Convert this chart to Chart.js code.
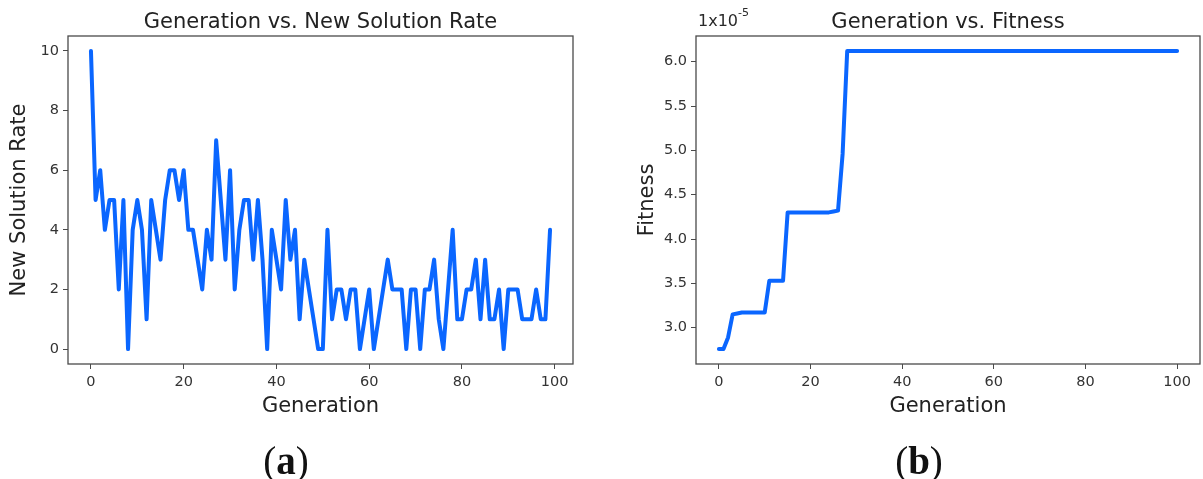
<!DOCTYPE html>
<html><head><meta charset="utf-8">
<script src="https://cdn.jsdelivr.net/npm/chart.js@4.4.1/dist/chart.umd.min.js"></script>
<style>
html,body{margin:0;padding:0;background:#fff;}
#wrap{position:relative;width:1203px;height:479px;overflow:hidden;}
canvas{position:absolute;top:0;}
</style></head><body>
<div id="wrap">
<canvas id="ca" style="left:0px"></canvas>
<canvas id="cb" style="left:603px"></canvas>
</div>
<script>
// ---- data ----
const newSolutionRate = [10,5,6,4,5,5,2,5,0,4,5,4,1,5,4,3,5,6,6,5,6,4,4,3,2,4,3,7,5,3,6,2,4,5,5,3,5,3,0,4,3,2,5,3,4,1,3,2,1,0,0,4,1,2,2,1,2,2,0,1,2,0,1,2,3,2,2,2,0,2,2,0,2,2,3,1,0,2,4,1,1,2,2,3,1,3,1,1,2,0,2,2,2,1,1,1,2,1,1,4];
const fitness = [2.76,2.76,2.89,3.15,3.16,3.17,3.17,3.17,3.17,3.17,3.17,3.53,3.53,3.53,3.53,4.30,4.30,4.30,4.30,4.30,4.30,4.30,4.30,4.30,4.30,4.31,4.32,4.96,
6.12,6.12,6.12,6.12,6.12,6.12,6.12,6.12,6.12,6.12,6.12,6.12,6.12,6.12,6.12,6.12,6.12,6.12,6.12,6.12,6.12,6.12,6.12,6.12,6.12,6.12,6.12,6.12,6.12,6.12,6.12,6.12,6.12,6.12,6.12,6.12,6.12,6.12,6.12,6.12,6.12,6.12,6.12,6.12,6.12,6.12,6.12,6.12,6.12,6.12,6.12,6.12,6.12,6.12,6.12,6.12,6.12,6.12,6.12,6.12,6.12,6.12,6.12,6.12,6.12,6.12,6.12,6.12,6.12,6.12,6.12,6.12,6.12];
const genTicks = [0,20,40,60,80,100];
const rateTicks = [0,2,4,6,8,10];
const fitTicks = [3.0,3.5,4.0,4.5,5.0,5.5,6.0];
const titleA = 'Generation vs. New Solution Rate';
const titleB = 'Generation vs. Fitness';
const xLabel = 'Generation';
const yLabelA = 'New Solution Rate';
const yLabelB = 'Fitness';

// ---- styling ----
const FONT = 'DejaVu Sans';
const LINE = '#0a66ff';
const FRAME = '#4a4a4a';
const TXT = '#333333';

function framePlugin(panel, caption){
  return {
    id:'frame'+panel,
    afterDraw(chart){
      const {ctx, chartArea:a} = chart;
      ctx.save();
      ctx.strokeStyle = FRAME; ctx.lineWidth = 1.3;
      ctx.strokeRect(a.left, a.top, a.right-a.left, a.bottom-a.top);
      // title
      ctx.fillStyle = '#222';
      ctx.font = '21px "' + FONT + '"';
      ctx.textAlign = 'center'; ctx.textBaseline = 'alphabetic';
      ctx.fillText(panel==='a'?titleA:titleB, (a.left+a.right)/2, 28);
      // caption (a)/(b)
      const cx = panel==='a' ? 286 : 316;
      const F = 39;
      ctx.font = F+'px "Liberation Serif"';
      const wOpen = ctx.measureText('(').width;
      ctx.font = 'bold '+F+'px "Liberation Serif"';
      const wMid = ctx.measureText(caption).width;
      ctx.font = F+'px "Liberation Serif"';
      const wClose = ctx.measureText(')').width;
      let x = cx - (wOpen+wMid+wClose)/2;
      ctx.textAlign = 'left';
      ctx.fillStyle = '#111';
      const by = 474;
      ctx.fillText('(', x, by); x += wOpen;
      ctx.font = 'bold '+F+'px "Liberation Serif"';
      ctx.fillText(caption, x, by); x += wMid;
      ctx.font = F+'px "Liberation Serif"';
      ctx.fillText(')', x, by);
      if(panel==='b'){
        ctx.font = '16px "' + FONT + '"';
        ctx.fillStyle = '#2a2a2a';
        ctx.fillText('1x10', a.left+2, 26);
        const w = ctx.measureText('1x10').width;
        ctx.font = '11px "' + FONT + '"';
        ctx.fillText('-5', a.left+2+w, 16);
      }
      ctx.restore();
    }
  };
}

function makeChart(id, panel, values, xmin, xmax, ymin, ymax, yTicks, yFmt, yWidth, yTitlePad, padRight){
  const cv = document.getElementById(id);
  cv.width = 600; cv.height = 479;
  cv.style.width = '600px'; cv.style.height = '479px';
  const pts = values.map((v,i)=>({x:i, y:v}));
  return new Chart(cv, {
    type:'line',
    data:{datasets:[{data:pts, borderColor:LINE, borderWidth:4, pointRadius:0, tension:0, fill:false, borderJoinStyle:'round', borderCapStyle:'round'}]},
    options:{
      responsive:false, animation:false, devicePixelRatio:1,
      layout:{padding:{left:0, top:36, right:padRight, bottom:55}},
      plugins:{legend:{display:false}, tooltip:{enabled:false}, title:{display:false}},
      scales:{
        x:{type:'linear', min:xmin, max:xmax,
          afterBuildTicks:s=>{ s.ticks = genTicks.map(v=>({value:v})); },
          afterFit:s=>{ s.height = 60; },
          grid:{drawOnChartArea:false, drawTicks:true, tickLength:5, color:FRAME},
          border:{display:false},
          ticks:{color:TXT, font:{family:FONT, size:14.5}, padding:5, maxRotation:0, callback:v=>String(v)},
          title:{display:true, text:xLabel, color:'#222', font:{family:FONT, size:21}, padding:{top:0,bottom:5}}
        },
        y:{type:'linear', min:ymin, max:ymax,
          afterBuildTicks:s=>{ s.ticks = yTicks.map(v=>({value:v})); },
          afterFit:s=>{ s.width = yWidth; },
          grid:{drawOnChartArea:false, drawTicks:true, tickLength:5, color:FRAME},
          border:{display:false},
          ticks:{color:TXT, font:{family:FONT, size:14.5}, padding:4, callback:yFmt},
          title:{display:true, text: panel==='a'?yLabelA:yLabelB, color:'#222', font:{family:FONT, size:21}, padding:{top:yTitlePad,bottom:0}}
        }
      }
    },
    plugins:[framePlugin(panel, panel)]
  });
}

makeChart('ca','a', newSolutionRate, -4.95, 103.95, -0.5, 10.5, rateTicks, v=>String(v), 68, 7, 27);
makeChart('cb','b', fitness, -5, 105, 2.59, 6.29, fitTicks, v=>v.toFixed(1), 93, 32, 3);
</script>
</body></html>
